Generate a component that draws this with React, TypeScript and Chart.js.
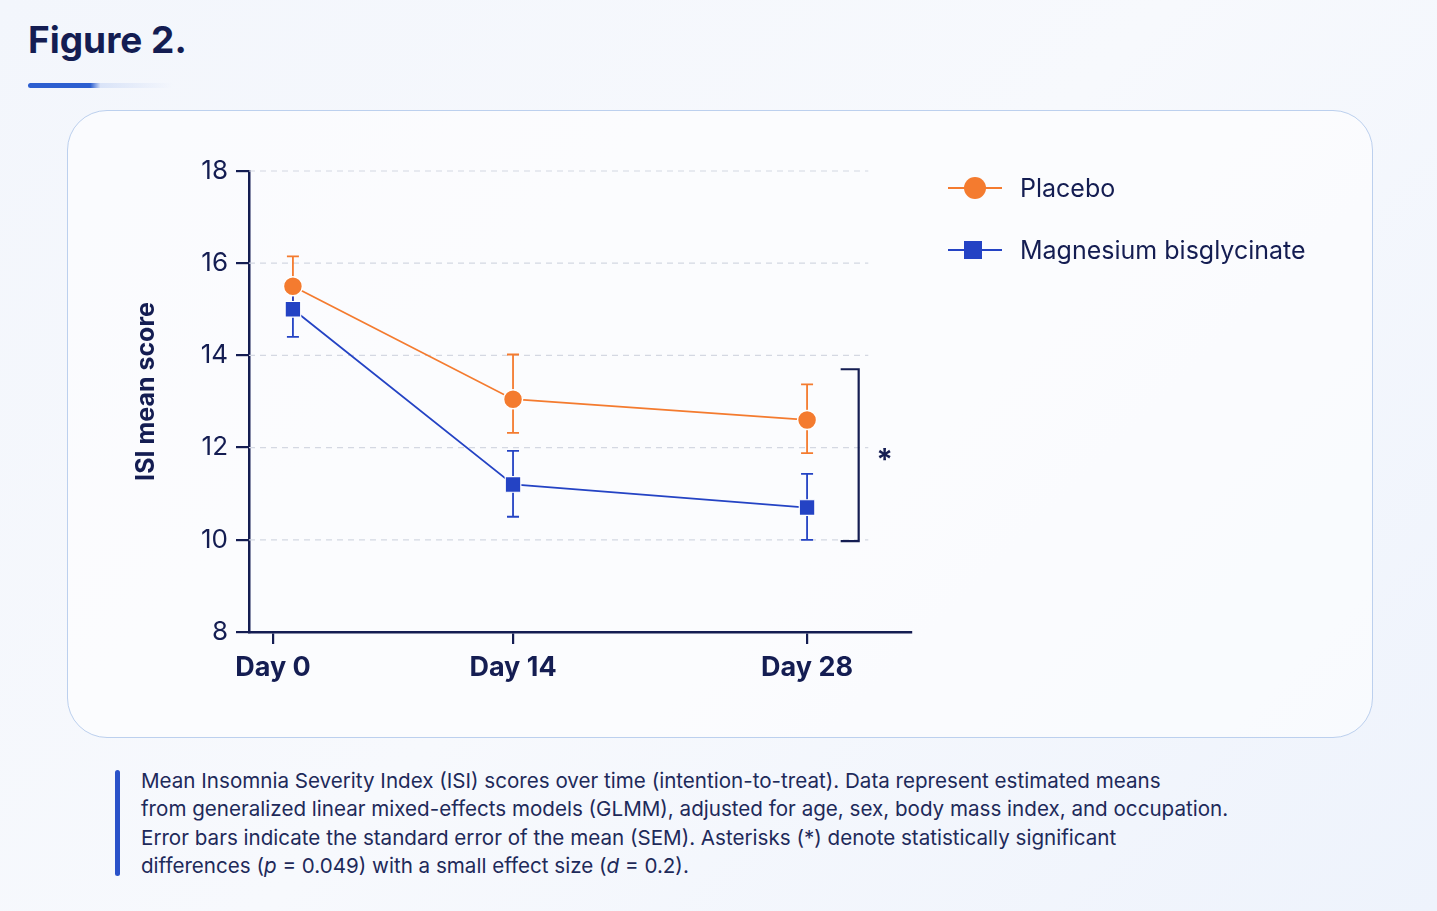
import React, { useEffect, useRef } from "react";
import { Chart, registerables } from "chart.js";
Chart.register(...registerables);

const categories = ["Day 0", "Day 14", "Day 28"];
const tickPositions = [0, 1, 2.225];
const placeboX = [0.083, 1, 2.225];
const magX = [0.083, 1, 2.225];
const placeboMean = [15.5, 13.05, 12.6];
const placeboUpper = [16.15, 14.02, 13.37];
const placeboLower = [14.85, 12.32, 11.88];
const magMean = [15.0, 11.2, 10.7];
const magUpper = [15.55, 11.93, 11.43];
const magLower = [14.4, 10.5, 10.0];
const yTicks = [8, 10, 12, 14, 16, 18];
const gridValues = [10, 12, 14, 16, 18];
const bracketRange = [13.7, 9.97];

const ORANGE = "#f47b2f";
const BLUE = "#2443c4";
const NAVY = "#141d52";
const FONT = "Inter, 'Noto Sans', sans-serif";

const decor = {
  id: "decor",
  beforeDatasetsDraw(chart: any) {
    const { ctx, scales } = chart;
    const x = scales.x, y = scales.y;
    ctx.save();
    ctx.strokeStyle = "#d4d8e2";
    ctx.lineWidth = 1.2;
    ctx.setLineDash([6, 5]);
    gridValues.forEach((v) => {
      const py = y.getPixelForValue(v);
      ctx.beginPath();
      ctx.moveTo(x.left, py);
      ctx.lineTo(x.getPixelForValue(2.48), py);
      ctx.stroke();
    });
    ctx.setLineDash([]);
    const drawErr = (xs: number[], up: number[], lo: number[], col: string) => {
      ctx.strokeStyle = col;
      ctx.lineWidth = 1.8;
      xs.forEach((xv, i) => {
        const px = x.getPixelForValue(xv);
        const t = y.getPixelForValue(up[i]);
        const b = y.getPixelForValue(lo[i]);
        ctx.beginPath();
        ctx.moveTo(px, t); ctx.lineTo(px, b);
        ctx.moveTo(px - 6, t); ctx.lineTo(px + 6, t);
        ctx.moveTo(px - 6, b); ctx.lineTo(px + 6, b);
        ctx.stroke();
      });
    };
    drawErr(placeboX, placeboUpper, placeboLower, ORANGE);
    drawErr(magX, magUpper, magLower, BLUE);
    ctx.restore();
  },
  afterDraw(chart: any) {
    const { ctx, scales } = chart;
    const x = scales.x, y = scales.y;
    ctx.save();
    const bx = x.getPixelForValue(2.44);
    const t = y.getPixelForValue(bracketRange[0]);
    const b = y.getPixelForValue(bracketRange[1]);
    ctx.strokeStyle = NAVY;
    ctx.lineWidth = 2.2;
    ctx.beginPath();
    ctx.moveTo(bx - 18, t); ctx.lineTo(bx, t); ctx.lineTo(bx, b); ctx.lineTo(bx - 18, b);
    ctx.stroke();
    ctx.fillStyle = NAVY;
    ctx.font = `bold 30px ${FONT}`;
    ctx.textAlign = "center";
    ctx.textBaseline = "middle";
    ctx.fillText("*", bx + 26, (t + b) / 2 + 6);
    ctx.translate(78, (y.top + y.bottom) / 2 - 10);
    ctx.rotate(-Math.PI / 2);
    ctx.font = `bold 25px ${FONT}`;
    ctx.fillText("ISI mean score", 0, 0);
    ctx.restore();
  },
};

function ChartBox() {
  const ref = useRef<HTMLCanvasElement>(null);
  useEffect(() => {
    const chart = new Chart(ref.current!, {
      type: "line",
      data: {
        datasets: [
          {
            label: "Placebo",
            data: placeboX.map((xv, i) => ({ x: xv, y: placeboMean[i] })),
            borderColor: ORANGE, backgroundColor: ORANGE, borderWidth: 1.8,
            pointRadius: 9.5, pointStyle: "circle", pointBorderColor: "#fff", pointBorderWidth: 1.5,
          },
          {
            label: "Magnesium bisglycinate",
            data: magX.map((xv, i) => ({ x: xv, y: magMean[i] })),
            borderColor: BLUE, backgroundColor: BLUE, borderWidth: 1.8,
            pointRadius: 11, pointStyle: "rect", pointBorderColor: "#fff", pointBorderWidth: 1.2,
          },
        ],
      },
      options: {
        animation: false,
        responsive: false,
        layout: { padding: { left: 0, top: 60, right: 463, bottom: 0 } },
        plugins: { legend: { display: false }, tooltip: { enabled: false } },
        scales: {
          x: {
            type: "linear", min: -0.1, max: 2.658,
            afterBuildTicks: (s: any) => { s.ticks = tickPositions.map((v) => ({ value: v })); },
            afterFit: (s: any) => { s.height = 107; },
            grid: { drawOnChartArea: false, color: NAVY, lineWidth: 2.2, tickLength: 12 },
            border: { color: NAVY, width: 2.5 },
            ticks: {
              callback: (_v: any, i: number) => categories[i],
              color: NAVY, font: { family: FONT, size: 27, weight: "bold" }, padding: 8,
              maxRotation: 0,
            },
          },
          y: {
            min: 8, max: 18,
            afterBuildTicks: (s: any) => { s.ticks = yTicks.map((v) => ({ value: v })); },
            afterFit: (s: any) => { s.width = 181; },
            grid: { drawOnChartArea: false, color: NAVY, lineWidth: 2.2, tickLength: 13 },
            border: { color: NAVY, width: 2.5 },
            ticks: { color: NAVY, font: { family: FONT, size: 26 }, padding: 8 },
          },
        },
      },
      plugins: [decor],
    } as any);
    return () => chart.destroy();
  }, []);
  return <canvas ref={ref} width={1306} height={628} style={{ position: "absolute", left: 0, top: 0 }} />;
}

function LegendItem({ label, color, square }: { label: string; color: string; square: boolean }) {
  return (
    <div style={{ display: "flex", alignItems: "center", height: 62 }}>
      <div style={{ position: "relative", width: 54, height: 24, marginRight: 18 }}>
        <div style={{ position: "absolute", left: 0, right: 0, top: 11, height: 2, background: color }} />
        <div style={{
          position: "absolute", left: 16, top: square ? 3 : 1, width: square ? 18 : 22, height: square ? 18 : 22,
          borderRadius: square ? 0 : "50%", background: color,
        }} />
      </div>
      <span style={{ fontSize: 25, color: NAVY }}>{label}</span>
    </div>
  );
}

export default function App() {
  return (
    <div style={{
      position: "absolute", left: 0, top: 0, width: 1437, height: 911, overflow: "hidden",
      fontFamily: FONT, background: "linear-gradient(135deg,#f3f6fc 0%,#f7f9fd 50%,#eef3fc 100%)",
    }}>
      <div style={{ position: "absolute", left: 28, top: 17, fontSize: 37, fontWeight: 700, color: NAVY }}>Figure 2.</div>
      <div style={{ position: "absolute", left: 28, top: 83, width: 145, height: 5, borderRadius: 3,
        background: "linear-gradient(90deg,#2d5fd0 0%,#2d5fd0 43%,rgba(200,215,245,0.6) 50%,rgba(240,244,252,0) 100%)" }} />
      <div style={{ position: "absolute", left: 67, top: 110, width: 1306, height: 628, borderRadius: 40,
        border: "1.5px solid #bcd0ee", background: "rgba(255,255,255,0.55)", boxSizing: "border-box" }}>
        <ChartBox />
        <div style={{ position: "absolute", left: 880, top: 46 }}>
          <LegendItem label="Placebo" color={ORANGE} square={false} />
          <LegendItem label="Magnesium bisglycinate" color={BLUE} square={true} />
        </div>
      </div>
      <div style={{ position: "absolute", left: 115, top: 770, width: 5, height: 106, borderRadius: 3, background: "#2a52c9" }} />
      <div style={{ position: "absolute", left: 141, top: 767, fontSize: 20.6, lineHeight: "28.3px", color: "#1e2a5a", width: 1200 }}>
        Mean Insomnia Severity Index (ISI) scores over time (intention-to-treat). Data represent estimated means<br />
        from generalized linear mixed-effects models (GLMM), adjusted for age, sex, body mass index, and occupation.<br />
        Error bars indicate the standard error of the mean (SEM). Asterisks (*) denote statistically significant<br />
        differences (<i>p</i> = 0.049) with a small effect size (<i>d</i> = 0.2).
      </div>
    </div>
  );
}
